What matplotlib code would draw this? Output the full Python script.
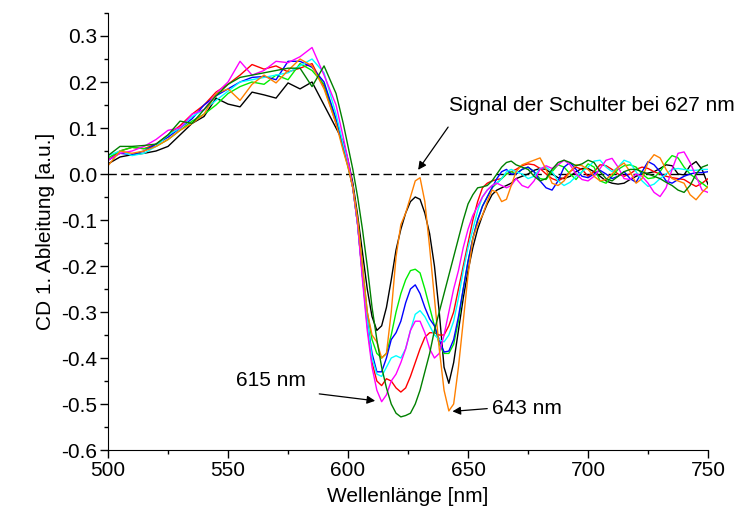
import numpy as np
import matplotlib
matplotlib.use("Agg")
import matplotlib.pyplot as plt
from matplotlib.ticker import MultipleLocator, FuncFormatter

plt.rcParams['font.family'] = ['Liberation Sans', 'DejaVu Sans']
plt.rcParams['axes.unicode_minus'] = False

# wavelength grid (nm)
wl = [500, 505, 510, 515, 520, 525, 530, 535, 540, 545, 550, 555, 560, 565, 570, 575, 580, 585, 590, 595,
      598, 600, 602, 604, 606, 608, 610, 612, 614, 616, 618, 620, 622, 624, 626, 628, 630, 632, 634, 636,
      638, 640, 642, 644, 646, 648, 650, 652, 654, 656, 658, 660, 662, 664, 666, 668, 670,
      672.5, 675, 677.5, 680, 682.5, 685, 687.5, 690, 692.5, 695, 697.5, 700, 702.5, 705, 707.5, 710,
      712.5, 715, 717.5, 720, 722.5, 725, 727.5, 730, 732.5, 735, 737.5, 740, 742.5, 745, 747.5, 750]

# CD first derivative, one list per spectrum (rise / bands / noisy tail)
cd_black = [0.022, 0.037, 0.042, 0.045, 0.050, 0.060, 0.085, 0.110, 0.125, 0.165, 0.152, 0.146, 0.178, 0.172, 0.165, 0.198, 0.185, 0.200, 0.150, 0.100,
            0.07, 0.03, -0.02, -0.09, -0.17, -0.25, -0.31, -0.34, -0.33, -0.29, -0.23, -0.165, -0.12, -0.085, -0.06, -0.05, -0.055, -0.085, -0.13, -0.20,
            -0.30, -0.42, -0.455, -0.41, -0.34, -0.27, -0.21, -0.16, -0.12, -0.09, -0.065, -0.045, -0.035, -0.03, -0.025, -0.02, -0.01,
            -0.005, 0.0, 0.008, 0.012, 0.01, 0.0, -0.008, -0.01, -0.005, 0.005, 0.012, 0.012, 0.005, -0.005, -0.015, -0.02,
            -0.022, -0.02, -0.012, -0.005, 0.0, 0.002, 0.005, 0.012, 0.02, 0.018, 0.0, -0.002, 0.018, 0.027, 0.01, -0.023]
cd_red = [0.030, 0.050, 0.058, 0.055, 0.065, 0.085, 0.105, 0.130, 0.150, 0.178, 0.195, 0.215, 0.238, 0.228, 0.235, 0.222, 0.230, 0.240, 0.190, 0.110,
          0.06, 0.02, -0.03, -0.11, -0.22, -0.33, -0.41, -0.45, -0.46, -0.445, -0.45, -0.465, -0.474, -0.465, -0.44, -0.41, -0.38, -0.355, -0.345, -0.345,
          -0.35, -0.35, -0.33, -0.30, -0.25, -0.20, -0.15, -0.10, -0.06, -0.03, -0.02, -0.015, -0.012, -0.01, 0.0, 0.005, 0.01,
          0.018, 0.022, 0.02, 0.012, 0.0, -0.01, -0.015, -0.008, 0.005, 0.015, 0.01, -0.005, 0.005, 0.02, 0.018, 0.01,
          0.0, -0.005, 0.0, 0.01, 0.015, 0.012, 0.005, 0.0, -0.005, -0.008, -0.01, -0.012, -0.02, -0.027, -0.02, -0.01]
cd_lime = [0.035, 0.050, 0.058, 0.055, 0.060, 0.075, 0.095, 0.115, 0.130, 0.150, 0.175, 0.190, 0.200, 0.195, 0.215, 0.205, 0.240, 0.225, 0.195, 0.115,
           0.055, 0.015, -0.03, -0.10, -0.20, -0.30, -0.36, -0.39, -0.40, -0.39, -0.35, -0.30, -0.26, -0.23, -0.21, -0.207, -0.215, -0.25, -0.29, -0.33,
           -0.37, -0.39, -0.39, -0.37, -0.32, -0.25, -0.19, -0.14, -0.10, -0.07, -0.05, -0.03, -0.02, -0.01, 0.0, 0.005, 0.0,
           0.01, 0.015, 0.005, -0.01, -0.012, 0.005, 0.02, 0.015, 0.0, -0.012, 0.005, 0.022, 0.015, -0.015, -0.02, -0.005,
           0.01, 0.018, 0.02, 0.015, 0.0, -0.01, -0.008, 0.005, 0.025, 0.04, 0.035, 0.015, 0.0, -0.01, -0.02, -0.03]
cd_blue = [0.030, 0.045, 0.042, 0.050, 0.065, 0.080, 0.100, 0.120, 0.150, 0.170, 0.185, 0.200, 0.210, 0.212, 0.205, 0.245, 0.245, 0.232, 0.200, 0.120,
           0.06, 0.02, -0.03, -0.11, -0.22, -0.32, -0.39, -0.43, -0.43, -0.40, -0.36, -0.345, -0.32, -0.28, -0.25, -0.241, -0.26, -0.29, -0.315, -0.33,
           -0.36, -0.387, -0.385, -0.36, -0.31, -0.25, -0.19, -0.14, -0.10, -0.07, -0.05, -0.03, -0.01, 0.005, 0.01, 0.0, 0.0,
           0.01, 0.015, 0.005, -0.015, -0.03, -0.035, -0.015, 0.015, 0.025, 0.01, -0.005, -0.008, 0.0, 0.008, 0.0, -0.01,
           -0.005, 0.005, -0.01, -0.018, 0.005, 0.027, 0.02, 0.005, -0.015, -0.02, -0.012, -0.005, 0.0, 0.003, 0.003, 0.005]
cd_cyan = [0.040, 0.050, 0.040, 0.045, 0.060, 0.085, 0.100, 0.125, 0.140, 0.160, 0.180, 0.200, 0.205, 0.210, 0.215, 0.220, 0.235, 0.250, 0.220, 0.130,
           0.065, 0.025, -0.03, -0.11, -0.22, -0.32, -0.40, -0.435, -0.44, -0.42, -0.40, -0.395, -0.40, -0.38, -0.34, -0.305, -0.297, -0.31, -0.33, -0.35,
           -0.36, -0.365, -0.35, -0.32, -0.27, -0.21, -0.16, -0.12, -0.08, -0.05, -0.035, -0.025, -0.02, -0.01, 0.005, 0.01, 0.005,
           0.0, -0.01, -0.005, 0.012, 0.015, 0.005, -0.015, -0.025, -0.018, -0.005, 0.005, 0.015, 0.028, 0.03, 0.015, 0.005,
           0.015, 0.03, 0.025, 0.005, -0.015, -0.027, -0.022, -0.01, 0.0, 0.01, 0.012, 0.01, 0.008, 0.008, 0.01, 0.01]
cd_magenta = [0.030, 0.045, 0.050, 0.060, 0.075, 0.095, 0.100, 0.130, 0.140, 0.175, 0.200, 0.245, 0.215, 0.225, 0.245, 0.242, 0.255, 0.275, 0.215, 0.150,
              0.08, 0.03, -0.03, -0.11, -0.23, -0.34, -0.42, -0.47, -0.495, -0.48, -0.45, -0.435, -0.41, -0.38, -0.34, -0.32, -0.32, -0.345, -0.38, -0.40,
              -0.39, -0.35, -0.30, -0.25, -0.21, -0.16, -0.12, -0.09, -0.07, -0.05, -0.035, -0.025, -0.02, -0.025, -0.03, -0.025, -0.01,
              -0.025, -0.03, -0.015, 0.01, 0.018, 0.012, 0.02, 0.03, 0.02, 0.0, -0.012, -0.015, -0.005, 0.012, 0.03, 0.034,
              0.015, -0.01, -0.012, 0.0, -0.005, -0.02, -0.04, -0.049, -0.03, 0.01, 0.045, 0.048, 0.025, -0.005, -0.035, -0.04]
cd_orange = [0.018, 0.050, 0.045, 0.050, 0.060, 0.075, 0.095, 0.110, 0.130, 0.175, 0.185, 0.160, 0.195, 0.215, 0.198, 0.225, 0.250, 0.235, 0.185, 0.110,
             0.05, 0.015, -0.03, -0.10, -0.20, -0.30, -0.35, -0.365, -0.40, -0.39, -0.30, -0.18, -0.11, -0.085, -0.05, -0.015, -0.008, -0.06, -0.16, -0.27,
             -0.38, -0.47, -0.515, -0.50, -0.42, -0.32, -0.22, -0.14, -0.11, -0.09, -0.06, -0.035, -0.04, -0.06, -0.055, -0.025, 0.005,
             0.02, 0.025, 0.03, 0.035, 0.01, -0.02, -0.025, -0.015, 0.005, 0.02, 0.018, 0.01, -0.005, -0.015, -0.012, 0.0,
             0.015, 0.024, 0.005, -0.02, -0.01, 0.025, 0.042, 0.035, 0.01, -0.01, -0.015, -0.02, -0.045, -0.056, -0.04, -0.027]
cd_dgreen = [0.040, 0.060, 0.060, 0.062, 0.065, 0.085, 0.115, 0.110, 0.140, 0.170, 0.195, 0.210, 0.215, 0.220, 0.225, 0.230, 0.230, 0.190, 0.235, 0.175,
             0.11, 0.06, 0.01, -0.05, -0.12, -0.20, -0.29, -0.36, -0.42, -0.465, -0.50, -0.52, -0.528, -0.525, -0.52, -0.50, -0.47, -0.43, -0.39, -0.34,
             -0.30, -0.26, -0.22, -0.18, -0.14, -0.10, -0.065, -0.045, -0.03, -0.028, -0.025, -0.015, 0.0, 0.015, 0.025, 0.028, 0.02,
             0.015, 0.01, -0.005, -0.015, -0.01, 0.01, 0.025, 0.03, 0.025, 0.018, 0.022, 0.03, 0.025, 0.005, -0.01, -0.015,
             -0.005, 0.005, 0.01, 0.01, 0.005, 0.0, -0.005, -0.01, -0.018, -0.025, -0.035, -0.04, -0.025, 0.0, 0.015, 0.02]

series = [(cd_black, '#000000'), (cd_red, '#ff0000'), (cd_lime, '#00ee00'), (cd_blue, '#0000ff'),
          (cd_cyan, '#00ffff'), (cd_magenta, '#ff00ff'), (cd_orange, '#ff8000'), (cd_dgreen, '#008000')]

fs = 15
fig = plt.figure(figsize=(7.44, 5.22), dpi=100)
ax = fig.add_axes([0.1452, 0.1379, 0.8065, 0.8372])

ax.axhline(0, color='k', ls=(0, (6, 3)), lw=1, zorder=1)
for vals, col in series:
    ax.plot(wl, vals, color=col, lw=1.0)

ax.set_xlim(500, 750)
ax.set_ylim(-0.6, 0.35)
ax.spines['top'].set_visible(False)
ax.spines['right'].set_visible(False)
ax.xaxis.set_major_locator(MultipleLocator(50))
ax.xaxis.set_minor_locator(MultipleLocator(25))
ax.set_yticks(np.arange(-0.6, 0.31, 0.1))
ax.yaxis.set_minor_locator(MultipleLocator(0.05))
ax.yaxis.set_major_formatter(FuncFormatter(lambda v, p: f"{v:.1f}".replace("-0.0", "0.0")))
ax.tick_params(which='major', direction='out', length=5.5, width=1, labelsize=fs, pad=2.5)
ax.tick_params(which='minor', direction='out', length=3, width=1)

ax.set_xlabel('Wellenlänge [nm]', fontsize=fs, labelpad=5)
ax.set_ylabel('CD 1. Ableitung [a.u.]', fontsize=fs, labelpad=4)

arrow = dict(arrowstyle='-|>', color='k', lw=0.9, mutation_scale=12, shrinkA=0, shrinkB=0)
ax.text(642.1, 0.15, 'Signal der Schulter bei 627 nm', fontsize=fs, va='center', ha='left')
ax.annotate('', xy=(629.2, 0.009), xytext=(641.7, 0.102), arrowprops=arrow)
ax.text(553.5, -0.448, '615 nm', fontsize=fs, va='center', ha='left')
ax.annotate('', xy=(611.3, -0.493), xytext=(588, -0.478), arrowprops=arrow)
ax.text(660, -0.51, '643 nm', fontsize=fs, va='center', ha='left')
ax.annotate('', xy=(643.5, -0.516), xytext=(658, -0.51), arrowprops=arrow)

fig.savefig('out.png', dpi=100)
